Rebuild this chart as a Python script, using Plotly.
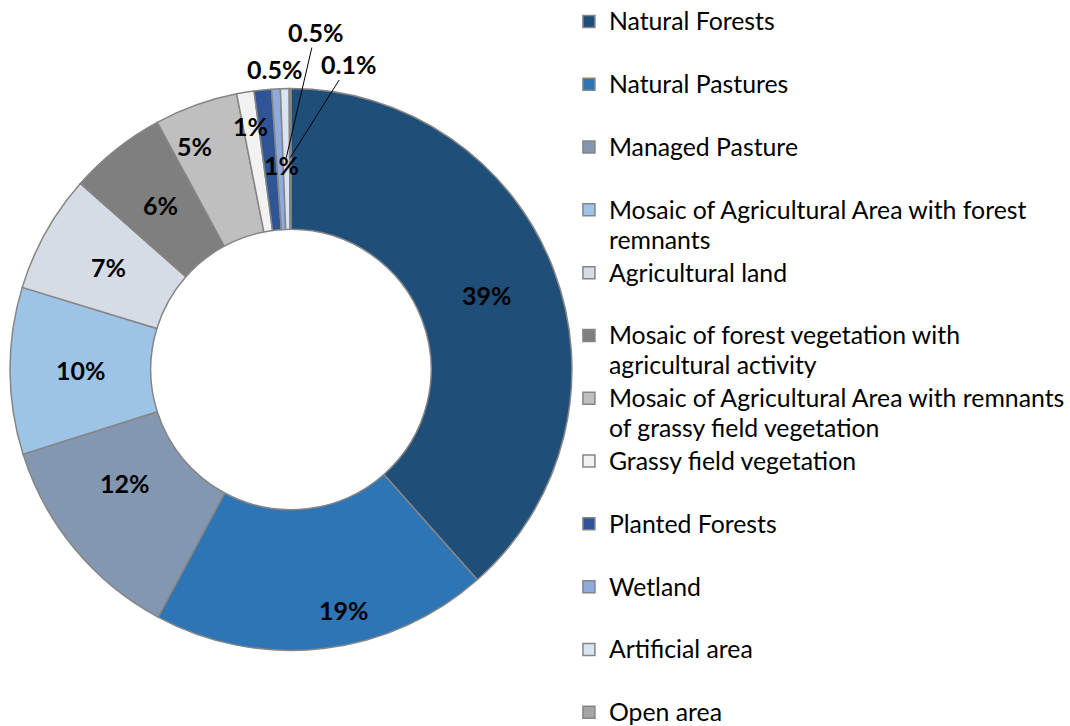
import math
import plotly.graph_objects as go

# ---------------- data ----------------
categories = [
    "Natural Forests",
    "Natural Pastures",
    "Managed Pasture",
    "Mosaic of Agricultural Area with forest<br>remnants",
    "Agricultural land",
    "Mosaic of forest vegetation with<br>agricultural activity",
    "Mosaic of Agricultural Area with remnants<br>of grassy field vegetation",
    "Grassy field vegetation",
    "Planted Forests",
    "Wetland",
    "Artificial area",
    "Open area",
]
shares = [38.5, 19.4, 12.3, 9.6, 6.8, 5.6, 4.8, 1.0, 1.0, 0.5, 0.5, 0.1]
pct_labels = ["39%", "19%", "12%", "10%", "7%", "6%", "5%", "1%", "1%", "0.5%", "0.5%", "0.1%"]

# ---------------- style ----------------
colors = ["#1F4E79", "#2E75B6", "#8497B0", "#9DC3E6", "#D6DCE5", "#7F7F7F",
          "#BFBFBF", "#F2F2F2", "#2F5597", "#8FAADC", "#DAE3F3", "#A5A5A5"]
W, H = 1070, 726
CX, CY, R = 291.5, 369.5, 281.5          # pie centre / radius in pixels
HOLE = 0.499
FONT = "Lato, 'Open Sans', sans-serif"
LBL_SIZE = 25
LEG_SIZE = 23        # drives legend line spacing
LEG_TEXT = 24.8      # rendered legend text size

# label placement relative to each slice's mid-angle:
#   r = label radius (px), da = angular nudge (deg),
#   lead = radius (px) of the leader-line target, or None for no leader line
DEFAULT_LABEL = dict(r=210, da=0.0, lead=None)
label_style = {
    1: dict(r=246, da=-5.85, lead=None),
    2: dict(r=201.5, da=5.35, lead=None),
    6: dict(r=243.6, da=-3.7, lead=None),
    7: dict(r=246.5, da=0.0, lead=None),
    8: dict(r=204.7, da=3.05, lead=None),
    9: dict(r=301, da=0.0, lead=None),
    10: dict(r=338.4, da=5.41, lead=212),
    11: dict(r=310.5, da=10.95, lead=212),
}


def polar(r, deg):
    a = math.radians(deg)
    return CX + r * math.sin(a), CY - r * math.cos(a)


def leg_label(name):
    lines = name.split("<br>")
    return "<br>".join(f'<span style="font-size:{LEG_TEXT}px">{ln}</span>' for ln in lines)


# legend labels: pad single-line entries so each entry uses the same slot
legend_labels = []
for i, c in enumerate(categories):
    lab = leg_label(c)
    if "<br>" not in c and i < len(categories) - 1:
        lab += "<br> "
    legend_labels.append(lab)

fig = go.Figure()
fig.add_trace(go.Pie(
    labels=legend_labels,
    values=shares,
    sort=False,
    direction="clockwise",
    rotation=0,
    hole=HOLE,
    marker=dict(colors=colors, line=dict(color="#858585", width=1.5)),
    textinfo="none",
    hovertext=[c.replace("<br>", " ") for c in categories],
    hoverinfo="text+percent",
    domain=dict(x=[(CX - R) / W, (CX + R) / W],
                y=[(H - CY - R) / H, (H - CY + R) / H]),
))

# data labels, positioned from the data (slice mid-angles)
total = sum(shares)
cum = 0.0
annotations = []
for i, v in enumerate(shares):
    mid = (cum + v / 2) / total * 360.0
    cum += v
    st = label_style.get(i, DEFAULT_LABEL)
    tx, ty = polar(st["r"], mid + st["da"])
    common = dict(xref="paper", yref="paper", xanchor="center", yanchor="middle",
                  text=f"<b>{pct_labels[i]}</b>",
                  font=dict(family=FONT, size=LBL_SIZE, color="black"))
    if st["lead"] is None:
        annotations.append(dict(x=tx / W, y=1 - ty / H, showarrow=False, **common))
    else:
        px, py = polar(st["lead"], mid)
        annotations.append(dict(x=px / W, y=1 - py / H, showarrow=True,
                                arrowhead=0, arrowwidth=1, arrowcolor="black",
                                ax=tx - px, ay=ty - py, axref="pixel", ayref="pixel",
                                standoff=0, borderpad=0, **common))

fig.update_layout(
    width=W, height=H,
    margin=dict(l=0, r=0, t=0, b=0),
    paper_bgcolor="white", plot_bgcolor="white",
    annotations=annotations,
    showlegend=True,
    legend=dict(
        x=570 / W, xanchor="left",
        y=1 - 2 / H, yanchor="top",
        valign="top",
        font=dict(family=FONT, size=LEG_SIZE, color="black"),
        bgcolor="rgba(0,0,0,0)",
        maxheight=2000,
    ),
)

fig.write_html("out.html", config={"displayModeBar": False},
               post_script="document.body.style.margin='0';")
